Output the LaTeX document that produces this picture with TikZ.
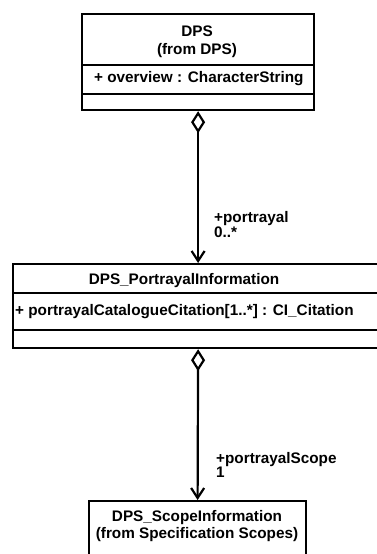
\documentclass[tikz,border=0pt]{standalone}
\usepackage{fontspec}
\setmainfont{Liberation Sans}
\usetikzlibrary{arrows.meta}
\begin{document}
\begin{tikzpicture}[x=1pt,y=-1pt,
  font=\fontsize{15.3}{11.5}\selectfont\bfseries,
  every node/.style={inner sep=0pt},
  umlbox/.style={draw, line width=2.2pt, anchor=north west, fill=white},
  divider/.style={line width=2.2pt},
  assoc/.style={line width=2.2pt,
    {Diamond[open, length=22pt, width=14pt, line width=2.2pt]}-{Straight Barb[length=10pt, width=13pt, line width=2.2pt]}},
  rolelabel/.style={anchor=north west, align=left}]
\useasboundingbox (0,0) rectangle (377,554);

% class DPS
\node[umlbox, minimum width=232pt, minimum height=96pt] (dps) at (81,13) {};
\draw[divider] (81,65) -- (313,65);
\draw[divider] (81,94) -- (313,94);
\node (dpsname) at (197,31) {DPS};
\node (dpsfrom) at (197,51) {(from DPS)};
\node[anchor=west] (dpsattr) at (94,79) {+ overview : CharacterString};

% class DPS_PortrayalInformation
\node[umlbox, minimum width=370pt, minimum height=84pt] (pi) at (12,263) {};
\draw[divider] (12,293) -- (382,293);
\draw[divider] (12,330) -- (382,330);
\node (piname) at (184,281) {DPS\_PortrayalInformation};
\node[anchor=west] (piattr) at (15,312) {+ portrayalCatalogueCitation[1..*] : CI\_Citation};

% class DPS_ScopeInformation
\node[umlbox, minimum width=217pt, minimum height=80pt] (si) at (88,500) {};
\node (siname) at (197,518) {DPS\_ScopeInformation};
\node (sifrom) at (197,535) {(from Specification Scopes)};

% aggregations
\draw[assoc] (dps.south) -- (pi.north);
\draw[assoc] (pi.south) -- (si.north);

% role names and multiplicities
\node[rolelabel] (role1) at (214,211) {+portrayal\\0..*};
\node[rolelabel] (role2) at (216,452) {+portrayalScope\\1};
\end{tikzpicture}
\end{document}
